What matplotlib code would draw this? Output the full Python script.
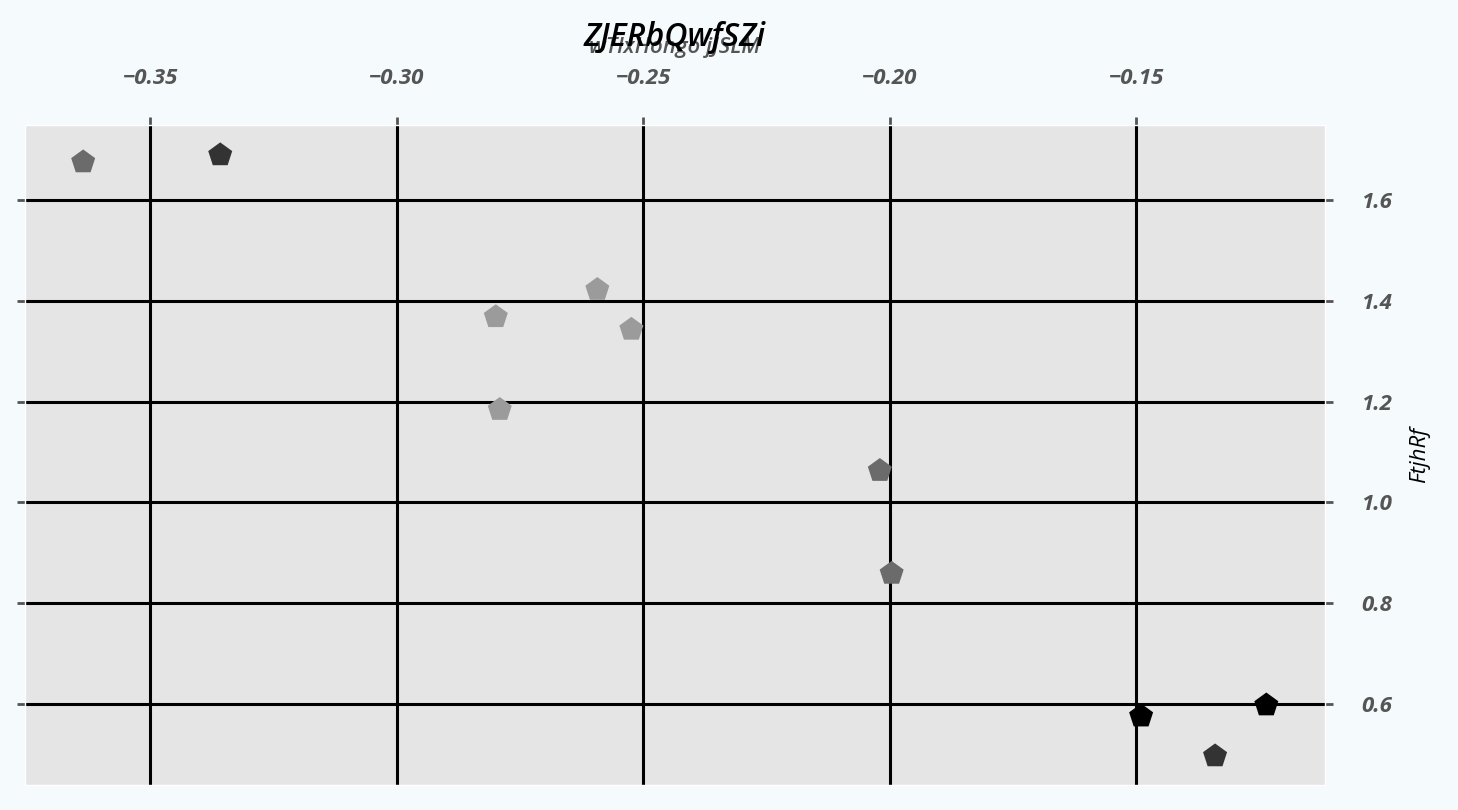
import numpy as np
import matplotlib.pyplot as plt

# data
x_vals = [-0.3636, -0.3358, -0.2799, -0.2593, -0.2524, -0.2791, -0.2020, -0.1996, -0.1490, -0.1236, -0.1340]
y_vals = [1.675, 1.689, 1.368, 1.422, 1.343, 1.184, 1.063, 0.859, 0.576, 0.598, 0.497]
shades = ['#6b6b6b', '#333333', '#9b9b9b', '#9b9b9b', '#9b9b9b', '#9b9b9b',
          '#6b6b6b', '#6b6b6b', '#000000', '#000000', '#333333']
x_ticks = [-0.35, -0.30, -0.25, -0.20, -0.15]
y_ticks = [0.6, 0.8, 1.0, 1.2, 1.4, 1.6]

plt.rcParams['font.family'] = ['Open Sans', 'DejaVu Sans']

fig = plt.figure(figsize=(14.58, 8.1), dpi=100, facecolor='#f5fafd')
ax = fig.add_axes([25 / 1458, 1 - 785 / 810, 1300 / 1458, 660 / 810])
ax.set_facecolor('#e5e5e5')
ax.set_axisbelow(True)

ax.scatter(x_vals, y_vals, c=shades, marker='p', s=330, linewidths=0, zorder=3)

ax.set_xlim(-0.3754, -0.1117)
ax.set_ylim(0.4396, 1.7485)
ax.set_xticks(x_ticks)
ax.set_yticks(y_ticks)
ax.set_xticklabels(['\u22120.35', '\u22120.30', '\u22120.25', '\u22120.20', '\u22120.15'])
ax.set_yticklabels(['0.6', '0.8', '1.0', '1.2', '1.4', '1.6'])
ax.grid(True, color='black', linewidth=2.2)

ax.tick_params(axis='x', top=True, bottom=False, labeltop=True, labelbottom=False,
               length=6, width=2, color='#555555', pad=20, labelsize=16,
               labelcolor='#555555')
ax.tick_params(axis='y', left=True, right=True, labelleft=False, labelright=True,
               length=6, width=2, color='#555555', pad=20, labelsize=16,
               labelcolor='#555555')
for lab in ax.get_xticklabels() + ax.get_yticklabels():
    lab.set_fontstyle('italic')
    lab.set_fontweight('bold')

for sp in ax.spines.values():
    sp.set_color('white')
    sp.set_linewidth(1)

ax.yaxis.set_label_position('right')
ax.set_ylabel('FtjhRf', fontsize=16, fontstyle='italic', labelpad=12)

fig.text(675 / 1458, 1 - 37 / 810, 'ZJERbQwfSZi', ha='center', va='center',
         fontsize=23, fontstyle='italic', fontweight='semibold', color='black', zorder=5)
fig.text(675 / 1458, 1 - 47 / 810, 'wTlxHongo jJSLM', ha='center', va='center',
         fontsize=16, fontstyle='italic', fontweight='semibold', color='#555555', zorder=4)

fig.savefig('out.png', dpi=100, facecolor=fig.get_facecolor())
